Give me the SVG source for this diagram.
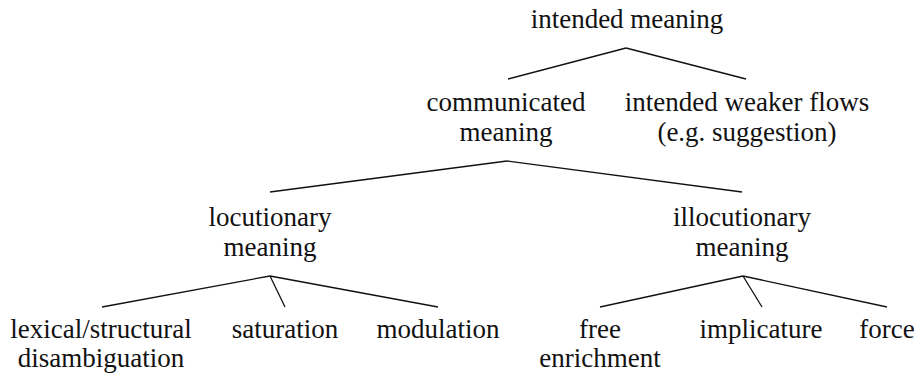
<svg xmlns="http://www.w3.org/2000/svg" width="918" height="377" viewBox="0 0 918 377">
<style>
text{font-family:"Liberation Serif","Times New Roman",serif;font-size:27px;fill:#111;text-anchor:middle}
line{stroke:#111;stroke-width:1.3}
</style>
<rect width="918" height="377" fill="#fff"/>
<g id="connectors">
<line x1="626" y1="48" x2="508" y2="79"/>
<line x1="626" y1="48" x2="746" y2="79"/>
<line x1="507" y1="161" x2="270" y2="192"/>
<line x1="507" y1="161" x2="742" y2="192"/>
<line x1="270" y1="276" x2="102" y2="307"/>
<line x1="270" y1="276" x2="285" y2="307"/>
<line x1="270" y1="276" x2="438" y2="307"/>
<line x1="743" y1="276" x2="600" y2="307"/>
<line x1="743" y1="276" x2="762" y2="307"/>
<line x1="743" y1="276" x2="887" y2="307"/>
</g>
<g id="n-intended"><text x="627" y="28">intended meaning</text></g>
<g id="n-communicated"><text x="506" y="111">communicated</text><text x="506" y="141">meaning</text></g>
<g id="n-weaker"><text x="747" y="111">intended weaker flows</text><text x="747" y="141">(e.g. suggestion)</text></g>
<g id="n-locutionary"><text x="270" y="226">locutionary</text><text x="270" y="256">meaning</text></g>
<g id="n-illocutionary"><text x="742" y="226">illocutionary</text><text x="742" y="256">meaning</text></g>
<g id="n-lexical"><text x="101" y="338">lexical/structural</text><text x="101" y="367">disambiguation</text></g>
<g id="n-saturation"><text x="285" y="338">saturation</text></g>
<g id="n-modulation"><text x="438" y="338">modulation</text></g>
<g id="n-free"><text x="600" y="338">free</text><text x="600" y="367">enrichment</text></g>
<g id="n-implicature"><text x="761" y="338">implicature</text></g>
<g id="n-force"><text x="887" y="338">force</text></g>
</svg>
